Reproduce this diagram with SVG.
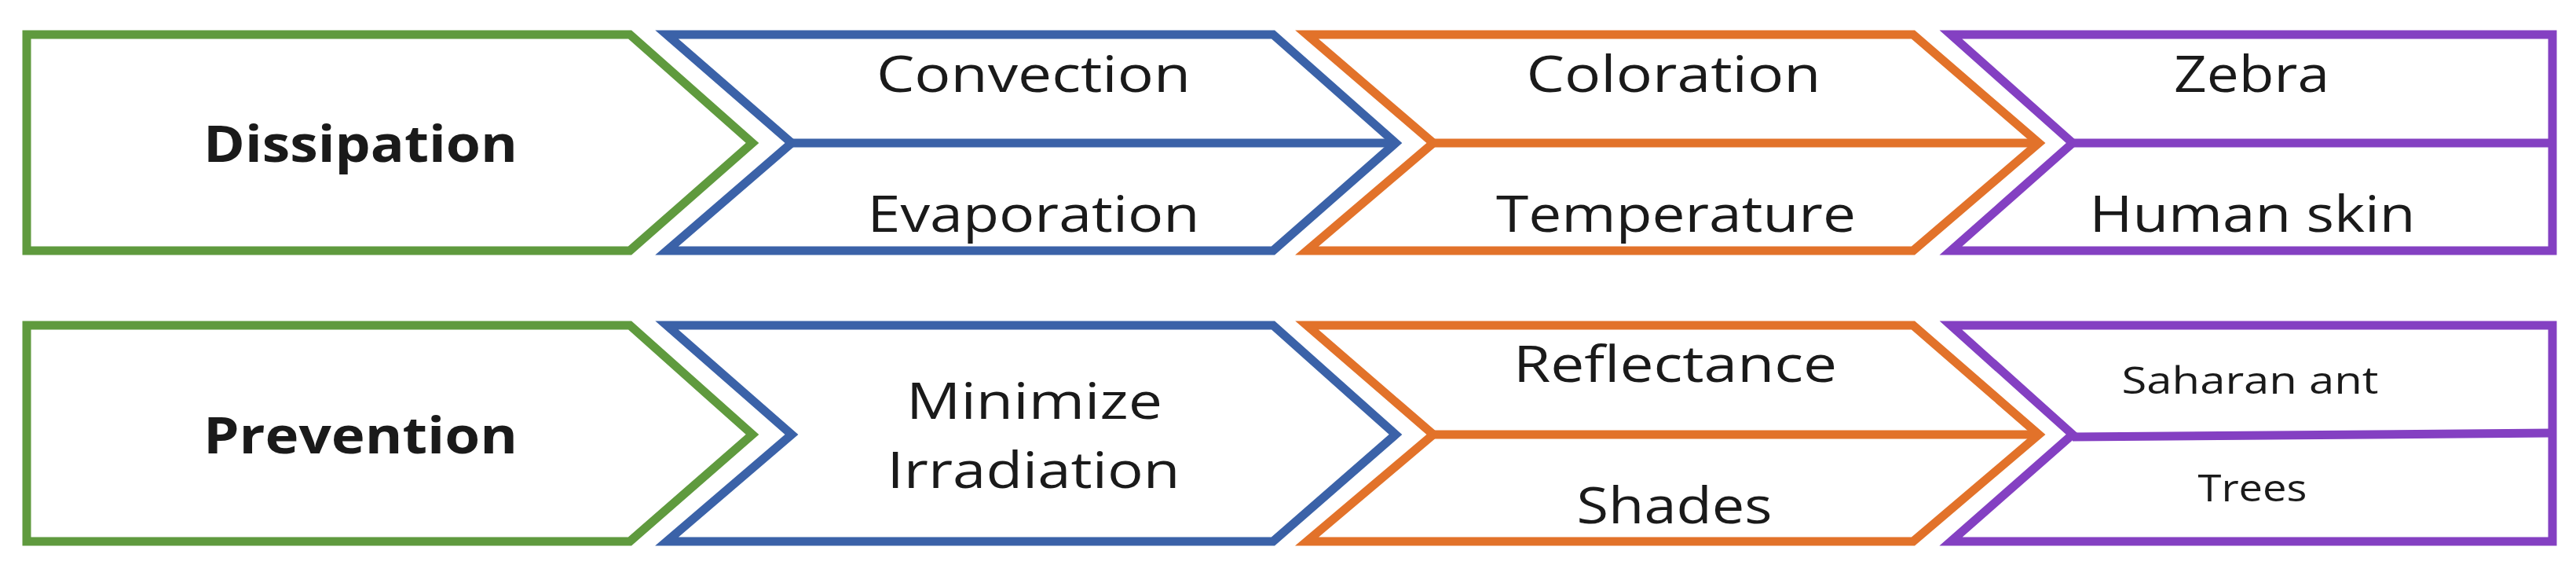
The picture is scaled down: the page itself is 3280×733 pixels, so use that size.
<svg xmlns="http://www.w3.org/2000/svg" width="3280" height="733" viewBox="0 0 3280 733">
<style>
.s{fill:#fff;stroke-width:11;stroke-linejoin:miter}
.g{stroke:#5f9a3e}.b{stroke:#3b62a8}.o{stroke:#e2722a}.p{stroke:#8440c2}
.d{fill:none;stroke-width:11}
text{font-family:"Open Sans","Liberation Sans",sans-serif;fill:#1a1a1a;font-size:64px;text-anchor:middle}
.bold{font-weight:bold}
.sm{font-size:48px}
</style>
<rect width="3280" height="733" fill="#fff"/>
<g id="dissipation"><path class="s g" d="M34,44H802L958,182L802,319H34Z"/><text class="bold" x="459" y="206" textLength="400" lengthAdjust="spacingAndGlyphs">Dissipation</text></g>
<g id="convection-evaporation"><path class="s b" d="M849,44H1621L1777,182L1621,319H849L1008,182Z"/><path class="d b" d="M1008,182H1777"/>
<text x="1316" y="117" textLength="400" lengthAdjust="spacingAndGlyphs">Convection</text>
<text x="1316" y="295" textLength="423" lengthAdjust="spacingAndGlyphs">Evaporation</text></g>
<g id="coloration-temperature"><path class="s o" d="M1664,44H2436L2596,182L2436,319H1664L1825,182Z"/><path class="d o" d="M1825,182H2596"/>
<text x="2131" y="117" textLength="375" lengthAdjust="spacingAndGlyphs">Coloration</text>
<text x="2134" y="295" textLength="458" lengthAdjust="spacingAndGlyphs">Temperature</text></g>
<g id="zebra-human"><path class="s p" d="M2484,44H3250V319H2484L2639,182Z"/><path class="d p" d="M2639,182H3250"/>
<text x="2867" y="117" textLength="198" lengthAdjust="spacingAndGlyphs">Zebra</text>
<text x="2868" y="295" textLength="415" lengthAdjust="spacingAndGlyphs">Human skin</text></g>
<g id="prevention"><path class="s g" d="M34,414H802L958,553L802,689H34Z"/><text class="bold" x="459" y="577" textLength="400" lengthAdjust="spacingAndGlyphs">Prevention</text></g>
<g id="minimize"><path class="s b" d="M849,414H1621L1777,553L1621,689H849L1008,553Z"/>
<text x="1317" y="533" textLength="326" lengthAdjust="spacingAndGlyphs">Minimize</text>
<text x="1316" y="621" textLength="373" lengthAdjust="spacingAndGlyphs">Irradiation</text></g>
<g id="reflectance-shades"><path class="s o" d="M1664,414H2436L2596,553L2436,689H1664L1825,553Z"/><path class="d o" d="M1825,553H2596"/>
<text x="2133" y="486" textLength="412" lengthAdjust="spacingAndGlyphs">Reflectance</text>
<text x="2132" y="666" textLength="249" lengthAdjust="spacingAndGlyphs">Shades</text></g>
<g id="ant-trees"><path class="s p" d="M2484,414H3250V689H2484L2639,553Z"/><path class="d p" d="M2639,556L3250,551"/>
<text class="sm" x="2865" y="501" textLength="327" lengthAdjust="spacingAndGlyphs">Saharan ant</text>
<text class="sm" x="2868" y="638" textLength="139" lengthAdjust="spacingAndGlyphs">Trees</text></g>
<g id="connectors"/>
</svg>
